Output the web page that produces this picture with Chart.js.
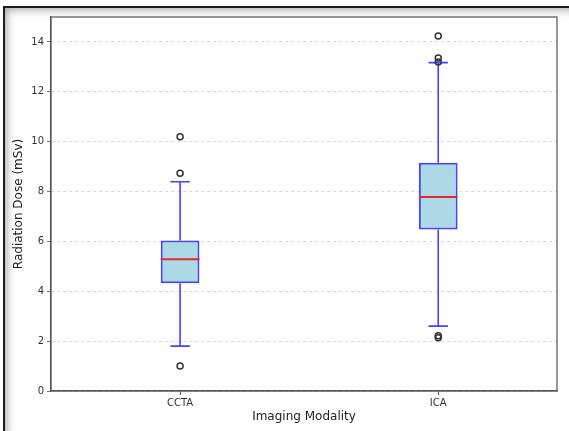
<!DOCTYPE html>
<html>
<head>
<meta charset="utf-8">
<script src="https://cdn.jsdelivr.net/npm/chart.js@4"></script>
<style>
  html, body { margin: 0; padding: 0; background: #fff; }
  #wrap { position: relative; width: 569px; height: 431px; overflow: hidden; }
  #grafica { position: absolute; left: 0; top: 0; }
  #marco {
    position: absolute; left: 3px; top: 6px; width: 574px; height: 434px;
    border-top: 2px solid #1c1c1c; border-left: 2px solid #1c1c1c;
    box-shadow: inset 0 0 9px 2px rgba(0,0,0,0.35);
    pointer-events: none;
  }
</style>
</head>
<body>
<div id="wrap">
  <canvas id="grafica" width="569" height="431"></canvas>
  <div id="marco"></div>
</div>
<script>
// Datos
const modalidades = ['CCTA', 'ICA'];
const posiciones = [1, 2];
const q1 = [4.32, 6.48];
const mediana = [5.28, 7.78];
const q3 = [6.04, 9.15];
const bigoteInf = [1.8, 2.6];
const bigoteSup = [8.39, 13.17];
const atipicosCCTA = [10.2, 8.73, 1.0];
const atipicosICA = [14.24, 13.36, 13.2, 2.22, 2.14];
const ticksY = [0, 2, 4, 6, 8, 10, 12, 14];

const anchoCaja = 0.15;
const azul = '#4242ff';

// segmentos de bigotes y tapas (null corta la línea)
const bigotes = [];
const medianas = [];
posiciones.forEach((p, i) => {
    const c = anchoCaja / 4;
    bigotes.push({x: p, y: q1[i]}, {x: p, y: bigoteInf[i]}, {x: p, y: null});
    bigotes.push({x: p - c, y: bigoteInf[i]}, {x: p + c, y: bigoteInf[i]}, {x: p, y: null});
    bigotes.push({x: p, y: q3[i]}, {x: p, y: bigoteSup[i]}, {x: p, y: null});
    bigotes.push({x: p - c, y: bigoteSup[i]}, {x: p + c, y: bigoteSup[i]}, {x: p, y: null});
    medianas.push({x: p - anchoCaja / 2, y: mediana[i]}, {x: p + anchoCaja / 2, y: mediana[i]}, {x: p, y: null});
});

const atipicos = atipicosCCTA.map(v => ({x: 1, y: v}))
    .concat(atipicosICA.map(v => ({x: 2, y: v})));

// marco del área de trazado (spines)
const marcoPlugin = {
    id: 'marco',
    afterDraw(chart) {
        const a = chart.chartArea;
        const ctx = chart.ctx;
        ctx.save();
        ctx.strokeStyle = '#555';
        ctx.lineWidth = 1.2;
        ctx.strokeRect(a.left, a.top, a.right - a.left, a.bottom - a.top);
        ctx.restore();
    }
};

const fuente = "'DejaVu Sans', sans-serif";

new Chart(document.getElementById('grafica').getContext('2d'), {
    type: 'bar',
    data: {
        datasets: [
            {
                type: 'bar',
                data: posiciones.map((p, i) => ({x: p, y: [q1[i], q3[i]]})),
                backgroundColor: '#add8e6',
                borderColor: azul,
                borderWidth: 2,
                borderSkipped: false,
                barPercentage: anchoCaja,
                categoryPercentage: 1,
                order: 2
            },
            {
                type: 'line',
                data: bigotes,
                borderColor: azul,
                borderWidth: 1.6,
                pointRadius: 0,
                spanGaps: false,
                fill: false,
                order: 3
            },
            {
                type: 'line',
                data: medianas,
                borderColor: '#e8262b',
                borderWidth: 2,
                pointRadius: 0,
                spanGaps: false,
                fill: false,
                order: 1
            },
            {
                type: 'scatter',
                data: atipicos,
                pointStyle: 'circle',
                pointRadius: 3,
                pointBorderWidth: 1.5,
                pointBorderColor: '#333',
                pointBackgroundColor: 'rgba(255,255,255,0)',
                order: 0
            }
        ]
    },
    options: {
        responsive: false,
        animation: false,
        layout: { padding: { top: 17, right: 12, left: 0, bottom: 0 } },
        plugins: {
            legend: { display: false },
            tooltip: { enabled: false }
        },
        scales: {
            x: {
                type: 'linear',
                offset: false,
                min: 0.5,
                max: 2.46,
                afterBuildTicks: s => { s.ticks = posiciones.map(v => ({value: v})); },
                afterFit: s => { s.height = 40; },
                ticks: {
                    callback: v => modalidades[posiciones.indexOf(v)] || '',
                    font: { family: fuente, size: 10 },
                    color: '#333',
                    padding: 2,
                    autoSkip: false,
                    maxRotation: 0
                },
                grid: { offset: false, drawOnChartArea: false, drawTicks: true, tickLength: 4, tickColor: '#555' },
                border: { color: '#555', width: 1.2 },
                title: {
                    display: true,
                    text: 'Imaging Modality',
                    font: { family: fuente, size: 12 },
                    color: '#222',
                    padding: { top: 0, bottom: 7 }
                }
            },
            y: {
                min: 0,
                max: 15,
                afterBuildTicks: s => { s.ticks = ticksY.map(v => ({value: v})); },
                afterFit: s => { s.width = 51; },
                ticks: {
                    font: { family: fuente, size: 10 },
                    color: '#333',
                    padding: 3
                },
                grid: { color: '#cfcfcf', lineWidth: 0.8, drawTicks: true, tickLength: 4, tickColor: '#555', tickBorderDash: [] },
                border: { color: '#555', width: 1.2, dash: [3, 3] },
                title: {
                    display: true,
                    text: 'Radiation Dose (mSv)',
                    font: { family: fuente, size: 12 },
                    color: '#222',
                    padding: { top: 12, bottom: 0 }
                }
            }
        }
    },
    plugins: [marcoPlugin]
});
</script>
</body>
</html>
